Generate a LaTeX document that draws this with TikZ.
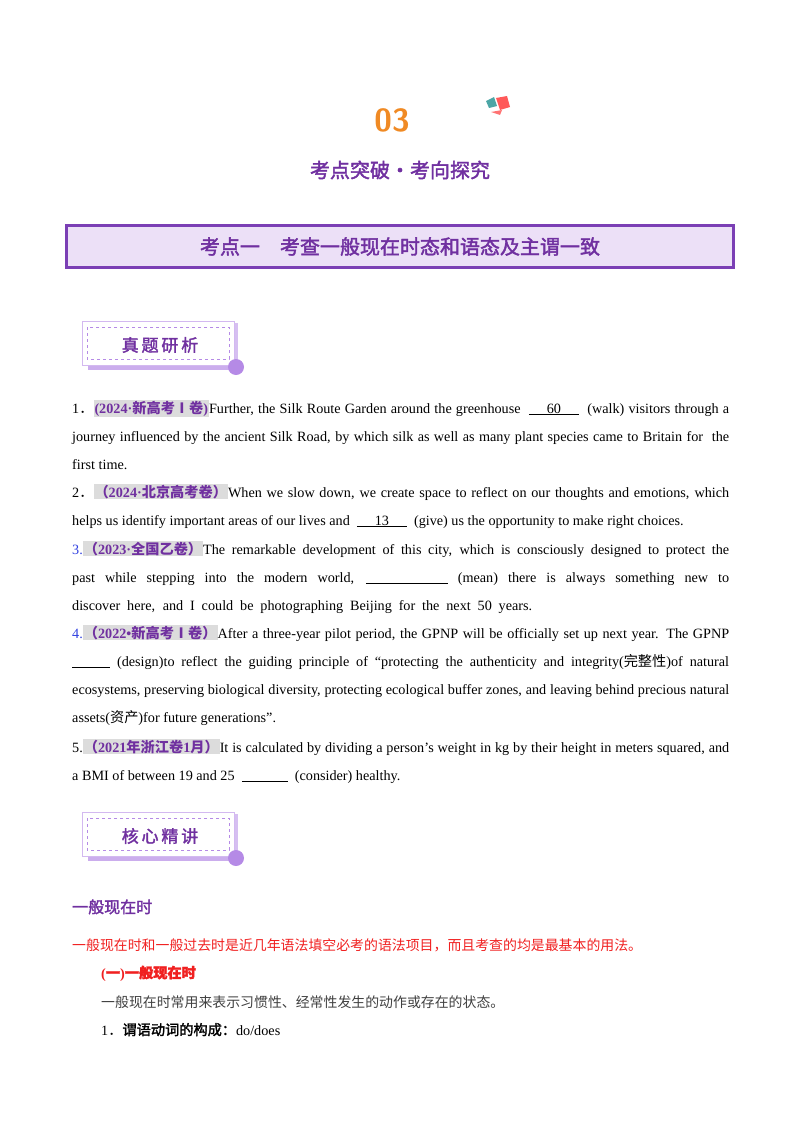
\documentclass[tikz,border=0pt]{standalone}
\usepackage{fontspec}
\setmainfont{Liberation Serif}
\newfontfamily\cjk{Noto Sans CJK SC}
\newfontfamily\cjkb{Noto Sans CJK SC}[FakeBold=2]
\definecolor{pur}{HTML}{7030A0}
\definecolor{boxfill}{HTML}{ECE0F7}
\definecolor{boxline}{HTML}{7B3FB5}
\definecolor{hlgray}{HTML}{DCDCDC}
\definecolor{orng}{HTML}{F08A24}
\definecolor{blu}{HTML}{2F3FE0}
\definecolor{redt}{HTML}{F02020}
\definecolor{badge}{HTML}{B58AE6}
\newcommand{\hl}[1]{{\setlength{\fboxsep}{1pt}\colorbox{hlgray}{\color{pur}\bfseries #1}}}
\newcommand{\J}[1]{\makebox[657pt][s]{#1}}
\newcommand{\blank}[2]{\underline{\makebox[#1]{#2}}}
\newcommand{\dd}{{\cjk ．}}
\tikzset{
 ln/.style={anchor=base west,inner sep=0pt,font=\fontsize{14.2}{16}\selectfont},
 badgetxt/.style={font=\cjkb\fontsize{17}{20}\selectfont,text=pur}
}
\begin{document}
\begin{tikzpicture}[x=1pt,y=-1pt]
\useasboundingbox (0,0) rectangle (800,1132);
% header
\node (num) at (392,120) {\fontsize{32}{36}\selectfont\sffamily\bfseries\color{orng}03};
\fill[teal!70] (486,101) -- (494,97) -- (497,106) -- (489,108) -- cycle;
\fill[red!65] (496,98) -- (507,96) -- (510,107) -- (500,110) -- cycle;
\fill[red!55] (491,112) -- (502,110) -- (500,115) -- cycle;
\node (sub) at (400,170) {\cjkb\fontsize{20}{24}\selectfont\color{pur}考点突破·考向探究};
\node[draw=boxline,line width=2.2pt,fill=boxfill,minimum width=667pt,minimum height=42pt] (title) at (400,246.5) {};
\node at (title) {\cjkb\fontsize{20}{24}\selectfont\color{pur}考点一\quad 考查一般现在时态和语态及主谓一致};
% badges
\foreach \yy/\txt/\nm in {345/真\,题\,研\,析/b1, 836/核\,心\,精\,讲/b2}{
  \fill[badge!70] (88,\yy+18) rectangle (234,\yy+25);
  \fill[badge!55] (232,\yy-22) rectangle (238,\yy+22);
  \draw[badge!60,fill=white,line width=1pt] (82,\yy-24) rectangle (234,\yy+20);
  \draw[badge,dashed,line width=0.7pt] (87,\yy-18) rectangle (229,\yy+14);
  \fill[badge] (236,\yy+22) circle (8);
  \node[badgetxt] (\nm) at (160,\yy) {\txt};
}
% questions
\node[ln] (l1) at (72,413) {\J{1\dd\hl{(2024·\cjk 新高考Ⅰ卷\rmfamily)}Further, the Silk Route Garden around the greenhouse \ \blank{50pt}{60} \ (walk) visitors through a}};
\node[ln] (l2) at (72,441) {\J{journey influenced by the ancient Silk Road, by which silk as well as many plant species came to Britain for \ the}};
\node[ln] (l3) at (72,469) {first time.};
\node[ln] (l4) at (72,497) {\J{2\dd\hl{\cjk（\rmfamily 2024·\cjk 北京高考卷）}When we slow down, we create space to reflect on our thoughts and emotions, which}};
\node[ln] (l5) at (72,525) {helps us identify important areas of our lives and \ \blank{50pt}{13} \ (give) us the opportunity to make right choices.};
\node[ln] (l6) at (72,554) {\J{{\color{blu}3.}\hl{\cjk（\rmfamily 2023·\cjk 全国乙卷）}The remarkable development of this city, which is consciously designed to protect the}};
\node[ln] (l7) at (72,582) {\J{past while stepping into the modern world, \blank{82pt}{} (mean) there is always something new to}};
\node[ln] (l8) at (72,610) {\makebox[460pt][s]{discover here, and I could be photographing Beijing for the next 50 years.}};
\node[ln] (l9) at (72,638) {\J{{\color{blu}4.}\hl{\cjk（\rmfamily 2022•\cjk 新高考Ⅰ卷）}After a three-year pilot period, the GPNP will be officially set up next year. The GPNP}};
\node[ln] (l10) at (72,666) {\J{\blank{38pt}{} (design)to reflect the guiding principle of “protecting the authenticity and integrity({\cjk 完整性})of natural}};
\node[ln] (l11) at (72,694) {\J{ecosystems, preserving biological diversity, protecting ecological buffer zones, and leaving behind precious natural}};
\node[ln] (l12) at (72,722) {assets({\cjk 资产})for future generations”.};
\node[ln] (l13) at (72,752) {\J{5.\hl{\cjk（\rmfamily 2021\cjk 年浙江卷\rmfamily 1\cjk 月）}It is calculated by dividing a person’s weight in kg by their height in meters squared, and}};
\node[ln] (l14) at (72,780) {a BMI of between 19 and 25 \ \blank{46pt}{} \ (consider) healthy.};
% lower section
\node[anchor=base west,inner sep=0pt] (h1) at (72,913) {\cjkb\fontsize{16}{20}\selectfont\color{pur}一般现在时};
\node[ln] (r1) at (72,950) {\cjk\fontsize{13.9}{16}\selectfont\color{redt}一般现在时和一般过去时是近几年语法填空必考的语法项目，而且考查的均是最基本的用法。};
\node[ln] (r2) at (101,978) {\color{redt}\bfseries(\cjkb 一\rmfamily\bfseries)\cjkb 一般现在时};
\node[ln] (r3) at (101,1007) {\cjk\fontsize{13.9}{16}\selectfont\color{black!75}一般现在时常用来表示习惯性、经常性发生的动作或存在的状态。};
\node[ln] (r4) at (101,1035) {1\dd{\cjkb 谓语动词的构成：}do/does};
\end{tikzpicture}
\end{document}
